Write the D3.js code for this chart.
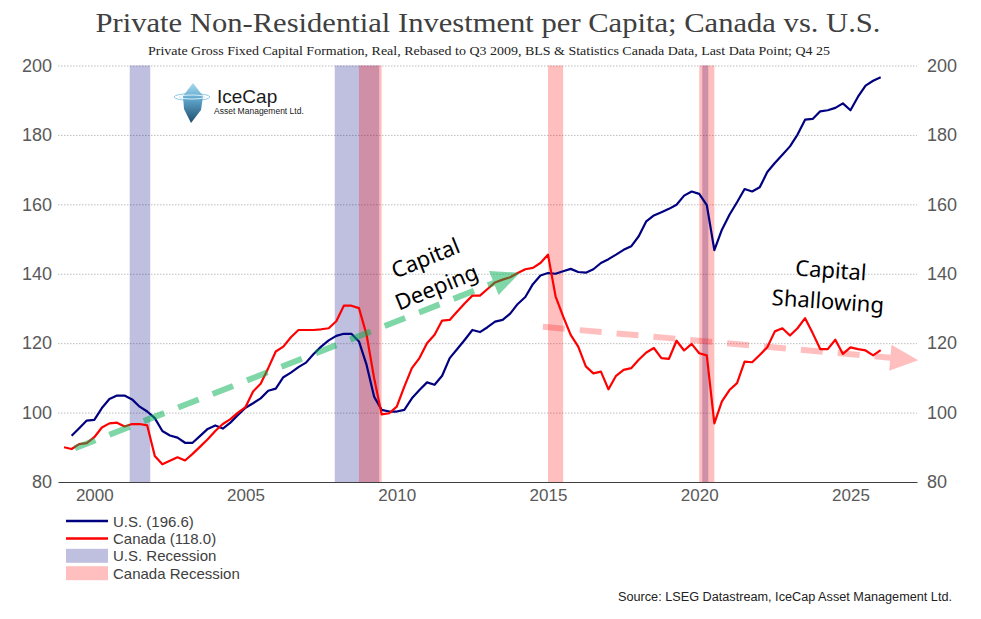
<!DOCTYPE html>
<html>
<head>
<meta charset="utf-8">
<script src="https://cdn.jsdelivr.net/npm/d3@7"></script>
<style>
  body { margin: 0; background: #fff; }
  svg { display: block; }
</style>
</head>
<body>
<script>
	// Quarterly series, rebased to Q3 2009 (first Canada point 1999.0, first U.S. point 1999.25)
	var canadaStart = 1999.0;
	var usStart = 1999.25;
	var canada = [
		90.0, 89.5, 90.9, 91.2,
		92.9, 95.7, 96.9, 97.1,
		96.0, 96.7, 96.7, 96.3,
		87.5, 85.1, 86.1, 87.1,
		86.2, 88.1, 90.2, 92.3,
		94.7, 96.7, 98.1, 100.0,
		101.6, 106.1, 108.3, 112.8,
		117.6, 119.0, 121.7, 123.8,
		123.8, 123.8, 124.0, 124.3,
		126.3, 130.8, 130.8, 130.1,
		122.5, 110.0, 99.5, 99.8,
		101.7, 107.5, 112.8, 115.7,
		120.0, 122.4, 126.5, 126.7,
		129.1, 131.5, 133.7, 133.7,
		135.6, 137.5, 138.3, 139.0,
		140.2, 141.3, 141.7, 143.1,
		145.5, 133.5, 127.7, 122.4,
		119.0, 113.3, 111.3, 111.8,
		106.7, 110.6, 112.3, 112.8,
		115.2, 117.3, 118.6, 115.7,
		115.5, 120.7, 117.9, 119.8,
		117.1, 116.5, 96.9, 103.2,
		106.5, 108.5, 114.7, 114.5,
		116.6, 118.8, 123.4, 124.3,
		122.2, 124.3, 127.2, 122.9,
		118.3, 118.3, 121.0, 116.9,
		118.8, 118.3, 117.9, 116.5,
		118.0
	];
	var us = [
		93.3, 95.5, 97.7,
		97.9, 101.3, 103.9, 104.9,
		104.9, 103.8, 101.7, 100.3,
		98.4, 94.7, 93.4, 92.8,
		91.3, 91.3, 93.3, 95.3,
		96.3, 95.4, 97.1, 99.3,
		101.4, 102.7, 104.1, 106.3,
		106.9, 110.2, 111.5, 113.1,
		114.4, 116.9, 119.0, 120.8,
		122.1, 122.7, 122.7, 120.5,
		113.8, 104.6, 100.8, 100.3,
		100.3, 100.8, 104.1, 106.5,
		108.7, 108.0, 110.6, 115.7,
		118.3, 121.0, 123.8, 123.2,
		124.6, 126.2, 126.7, 128.5,
		131.3, 133.3, 137.0, 139.5,
		140.2, 140.0, 140.7, 141.4,
		140.5, 140.3, 141.3, 143.1,
		144.2, 145.5, 146.9, 147.9,
		150.8, 155.1, 156.8, 157.7,
		158.7, 159.9, 162.5, 163.7,
		163.0, 159.8, 146.8, 152.7,
		157.0, 160.6, 164.4, 163.7,
		164.9, 169.3, 171.9, 174.3,
		176.7, 180.1, 184.4, 184.6,
		186.8, 187.1, 187.8, 189.1,
		187.1, 191.0, 194.2, 195.6,
		196.6
	];
	var usRecessions = [[2001.17, 2001.85], [2007.95, 2009.42], [2020.1, 2020.3]];
	var caRecessions = [[2008.75, 2009.5], [2015.0, 2015.5], [2020.0, 2020.5]];
	var yTicks = [80, 100, 120, 140, 160, 180, 200];
	var xTicks = [2000, 2005, 2010, 2015, 2020, 2025];
	// trend annotations, [year, value]
	var deepingTrend = [[1999.36, 89.7], [2014.07, 140.3]];
	var shallowingTrend = [[2014.83, 124.7], [2027.24, 115.1]];
	var legendItems = ["U.S. (196.6)", "Canada (118.0)", "U.S. Recession", "Canada Recession"];

	var wi = 981;
	var he = 619;
	var plotL = 58, plotR = 917, plotT = 65.5, plotB = 482;

	var svg = d3.select("body")
				.append("svg")
				.attr("width", wi)
				.attr("height", he);

	var x = d3.scaleLinear().domain([1998.8, 2027.2]).range([plotL, plotR]);
	var y = d3.scaleLinear().domain([80, 200]).range([plotB, plotT]);

	// titles
	svg.append("text")
		.attr("x", 488).attr("y", 32)
		.attr("text-anchor", "middle")
		.attr("font-family", "Liberation Serif")
		.attr("font-size", "27px")
		.attr("fill", "#404040")
		.attr("textLength", 785)
		.attr("lengthAdjust", "spacingAndGlyphs")
		.text("Private Non-Residential Investment per Capita; Canada vs. U.S.");
	svg.append("text")
		.attr("x", 489).attr("y", 55)
		.attr("text-anchor", "middle")
		.attr("font-family", "Liberation Serif")
		.attr("font-size", "12px")
		.attr("fill", "#222")
		.attr("textLength", 682)
		.attr("lengthAdjust", "spacingAndGlyphs")
		.text("Private Gross Fixed Capital Formation, Real, Rebased to Q3 2009, BLS & Statistics Canada Data, Last Data Point; Q4 25");

	// gridlines
	svg.append("g")
		.attr("transform", "translate(" + plotL + ",0)")
		.call(d3.axisLeft(y).tickValues(yTicks.slice(1)).tickSize(-(plotR - plotL)).tickFormat(""))
		.call(function(g) { g.select(".domain").remove(); })
		.selectAll("line")
		.attr("stroke", "#bdbdbd")
		.attr("stroke-dasharray", "1.5,1.5");

	// recession bands
	svg.selectAll("rect.usrec")
		.data(usRecessions)
		.enter()
		.append("rect")
		.attr("class", "usrec")
		.attr("x", function(d) { return x(d[0]); })
		.attr("width", function(d) { return x(d[1]) - x(d[0]); })
		.attr("y", y(200))
		.attr("height", y(80) - y(200))
		.attr("fill", "#000080")
		.attr("fill-opacity", 0.25);
	svg.selectAll("rect.carec")
		.data(caRecessions)
		.enter()
		.append("rect")
		.attr("class", "carec")
		.attr("x", function(d) { return x(d[0]); })
		.attr("width", function(d) { return x(d[1]) - x(d[0]); })
		.attr("y", y(200))
		.attr("height", y(80) - y(200))
		.attr("fill", "#ff0000")
		.attr("fill-opacity", 0.25);

	// axes
	var yl = svg.append("g")
		.attr("transform", "translate(" + plotL + ",0)")
		.call(d3.axisLeft(y).tickValues(yTicks).tickSize(0).tickPadding(6));
	var yr = svg.append("g")
		.attr("transform", "translate(" + plotR + ",0)")
		.call(d3.axisRight(y).tickValues(yTicks).tickSize(0).tickPadding(10));
	[yl, yr].forEach(function(g) {
		g.select(".domain").remove();
		g.selectAll("text")
			.attr("font-family", "Liberation Sans")
			.attr("font-size", "18px")
			.attr("fill", "#595959");
	});
	var xa = svg.append("g")
		.attr("transform", "translate(0," + plotB + ")")
		.call(d3.axisBottom(x).tickValues(xTicks).tickFormat(d3.format("d")).tickSize(0).tickPadding(7));
	xa.select(".domain").attr("stroke", "#404040").attr("stroke-width", 1.2);
	xa.selectAll("text")
		.attr("font-family", "Liberation Sans")
		.attr("font-size", "17px")
		.attr("fill", "#595959");

	// series lines
	var line = d3.line()
		.x(function(d) { return x(d.t); })
		.y(function(d) { return y(d.v); });
	var usPts = us.map(function(v, i) { return { t: usStart + i * 0.25, v: v }; });
	var caPts = canada.map(function(v, i) { return { t: canadaStart + i * 0.25, v: v }; });
	svg.append("path").datum(usPts)
		.attr("d", line)
		.attr("fill", "none")
		.attr("stroke", "#000080")
		.attr("stroke-width", 2.2)
		.attr("stroke-linejoin", "round");
	svg.append("path").datum(caPts)
		.attr("d", line)
		.attr("fill", "none")
		.attr("stroke", "#ff0000")
		.attr("stroke-width", 2.2)
		.attr("stroke-linejoin", "round");

	// dashed trend arrows
	function trendArrow(pts, color, opacity) {
		var x0 = x(pts[0][0]), y0 = y(pts[0][1]);
		var x1 = x(pts[1][0]), y1 = y(pts[1][1]);
		var len = Math.sqrt((x1 - x0) * (x1 - x0) + (y1 - y0) * (y1 - y0));
		var ux = (x1 - x0) / len, uy = (y1 - y0) / len;
		var headL = 28, headW = 13;
		var bx = x1 - ux * headL, by = y1 - uy * headL;
		svg.append("line")
			.attr("x1", x0).attr("y1", y0)
			.attr("x2", bx).attr("y2", by)
			.attr("stroke", color)
			.attr("stroke-opacity", opacity)
			.attr("stroke-width", 6)
			.attr("stroke-dasharray", "22,15");
		svg.append("path")
			.attr("d", "M" + x1 + "," + y1 +
				"L" + (bx - uy * headW) + "," + (by + ux * headW) +
				"L" + (bx + uy * headW) + "," + (by - ux * headW) + "Z")
			.attr("fill", color)
			.attr("fill-opacity", opacity);
	}
	trendArrow(deepingTrend, "#00b050", 0.5);
	trendArrow(shallowingTrend, "#ff0000", 0.25);

	// annotation text
	function note(txt, cx, cy, angle) {
		svg.append("text")
			.attr("transform", "translate(" + cx + "," + cy + ") rotate(" + angle + ")")
			.attr("text-anchor", "middle")
			.attr("dominant-baseline", "central")
			.attr("font-family", "Noto Sans")
			.attr("font-size", "22px")
			.attr("fill", "#000")
			.text(txt);
	}
	note("Capital", 425, 257, -22);
	note("Deeping", 436, 286, -22);
	note("Capital", 831, 269, 4);
	note("Shallowing", 828, 300, 4);

	// logo
	var defs = svg.append("defs");
	var grad = defs.append("linearGradient")
		.attr("id", "ice").attr("x1", 0).attr("y1", 0).attr("x2", 0).attr("y2", 1);
	grad.append("stop").attr("offset", "0%").attr("stop-color", "#a9dbef");
	grad.append("stop").attr("offset", "40%").attr("stop-color", "#5fa6cc");
	grad.append("stop").attr("offset", "100%").attr("stop-color", "#1f4d6e");
	var logo = svg.append("g");
	logo.append("ellipse")
		.attr("cx", 192).attr("cy", 97).attr("rx", 18).attr("ry", 3.5)
		.attr("fill", "none").attr("stroke", "#8ccbe6").attr("stroke-width", 1);
	logo.append("path")
		.attr("d", "M193,83 L203,96 L201,110 L191,123 L184,109 L183,96 Z")
		.attr("fill", "url(#ice)");
	logo.append("ellipse")
		.attr("cx", 192).attr("cy", 97).attr("rx", 13).attr("ry", 2)
		.attr("fill", "none").attr("stroke", "#d8eef8").attr("stroke-width", 1);
	logo.append("text")
		.attr("x", 217).attr("y", 103)
		.attr("font-family", "Liberation Sans")
		.attr("font-size", "19px")
		.attr("fill", "#1a1a1a")
		.text("IceCap");
	logo.append("text")
		.attr("x", 214).attr("y", 114)
		.attr("font-family", "Liberation Sans")
		.attr("font-size", "8.5px")
		.attr("fill", "#1a1a1a")
		.text("Asset Management Ltd.");

	// legend
	var legend = svg.append("g");
	var legRows = legend.selectAll("g")
		.data(legendItems)
		.enter()
		.append("g")
		.attr("transform", function(d, i) { return "translate(66," + (521 + i * 17.4) + ")"; });
	legRows.each(function(d, i) {
		var g = d3.select(this);
		if (i < 2) {
			g.append("line")
				.attr("x1", 0).attr("x2", 42).attr("y1", 0).attr("y2", 0)
				.attr("stroke", i === 0 ? "#000080" : "#ff0000")
				.attr("stroke-width", 2.5);
		} else {
			g.append("rect")
				.attr("x", 0).attr("y", -7).attr("width", 42).attr("height", 14)
				.attr("fill", i === 2 ? "#000080" : "#ff0000")
				.attr("fill-opacity", 0.25);
		}
	});
	legRows.append("text")
		.attr("x", 47)
		.attr("y", 0)
		.attr("dominant-baseline", "central")
		.attr("font-family", "Liberation Sans")
		.attr("font-size", "15px")
		.attr("fill", "#404040")
		.text(function(d) { return d; });

	// source
	svg.append("text")
		.attr("x", 952).attr("y", 601)
		.attr("text-anchor", "end")
		.attr("font-family", "Liberation Sans")
		.attr("font-size", "12px")
		.attr("fill", "#222")
		.attr("textLength", 334)
		.attr("lengthAdjust", "spacingAndGlyphs")
		.text("Source: LSEG Datastream, IceCap Asset Management Ltd.");
</script>
</body>
</html>
